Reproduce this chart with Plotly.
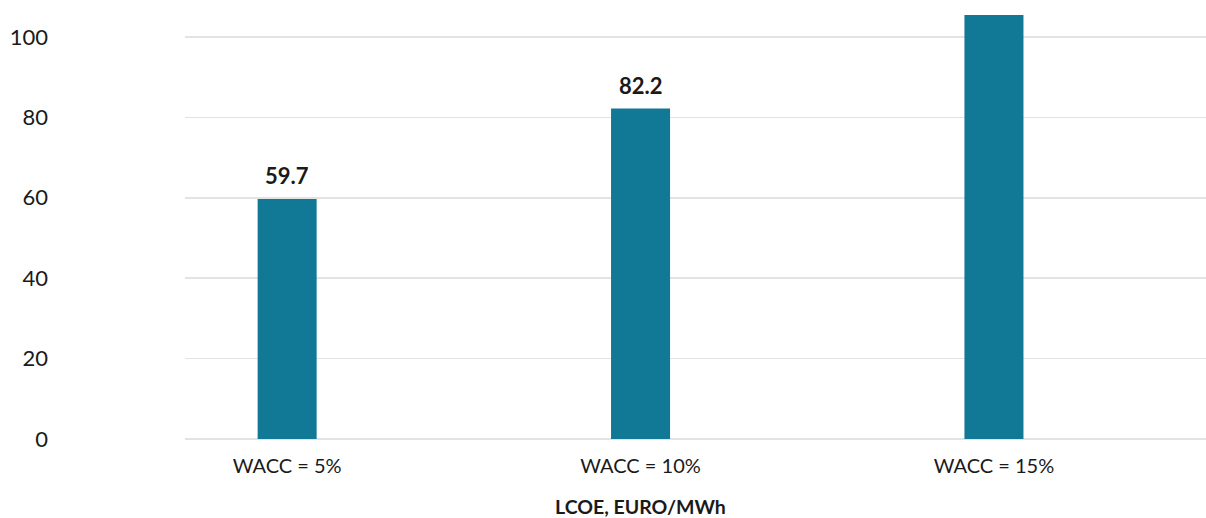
import plotly.graph_objects as go

categories = ["WACC = 5%", "WACC = 10%", "WACC = 15%"]
lcoe_values = [59.7, 82.2, 107.4]
label_texts = ["59.7", "82.2", "107.4"]
y_ticks = [0, 20, 40, 60, 80, 100]
x_title = "LCOE, EURO/MWh"

BAR_COLOR = "#117896"
TEXT_COLOR = "#1a1a1a"
FONT = "Lato"

fig = go.Figure()
fig.add_trace(go.Bar(
    x=list(range(len(categories))),
    y=lcoe_values,
    width=0.167,
    marker=dict(color=BAR_COLOR, line=dict(width=0)),
    hoverinfo="skip",
))

for i, (v, t) in enumerate(zip(lcoe_values, label_texts)):
    fig.add_annotation(
        x=i, y=v, xref="x", yref="y", text="<b>" + t + "</b>",
        showarrow=False, yanchor="bottom", yshift=8,
        font=dict(family=FONT, size=22, color=TEXT_COLOR),
    )

# axis title centred under the middle category
fig.add_annotation(
    x=(len(categories) - 1) / 2, xref="x", y=0, yref="paper",
    text="<b>" + x_title + "</b>", showarrow=False,
    yanchor="middle", yshift=-67,
    font=dict(family=FONT, size=19.5, color=TEXT_COLOR),
)

fig.update_layout(
    width=1206, height=518,
    margin=dict(l=185, r=0, t=15, b=79),
    paper_bgcolor="white", plot_bgcolor="white",
    showlegend=False,
    font=dict(family=FONT, color=TEXT_COLOR),
    xaxis=dict(
        range=[-0.289, 2.6],
        tickmode="array",
        tickvals=list(range(len(categories))),
        ticktext=categories,
        tickfont=dict(family=FONT, size=20, color=TEXT_COLOR),
        showgrid=False, zeroline=False, showline=False,
        ticks="", ticklabelstandoff=13,
    ),
    yaxis=dict(
        range=[0, 105.47],
        tickmode="array",
        tickvals=y_ticks,
        tickfont=dict(family=FONT, size=22, color=TEXT_COLOR),
        showgrid=True, gridcolor="#e3e3e3", gridwidth=1.5,
        zeroline=True, zerolinecolor="#e3e3e3", zerolinewidth=1.5,
        showline=False, ticks="", ticklabelstandoff=136,
    ),
)

fig.write_html(
    "out.html",
    config={"displayModeBar": False, "staticPlot": True},
    post_script="document.body.style.margin='0';document.body.style.overflow='hidden';",
)
